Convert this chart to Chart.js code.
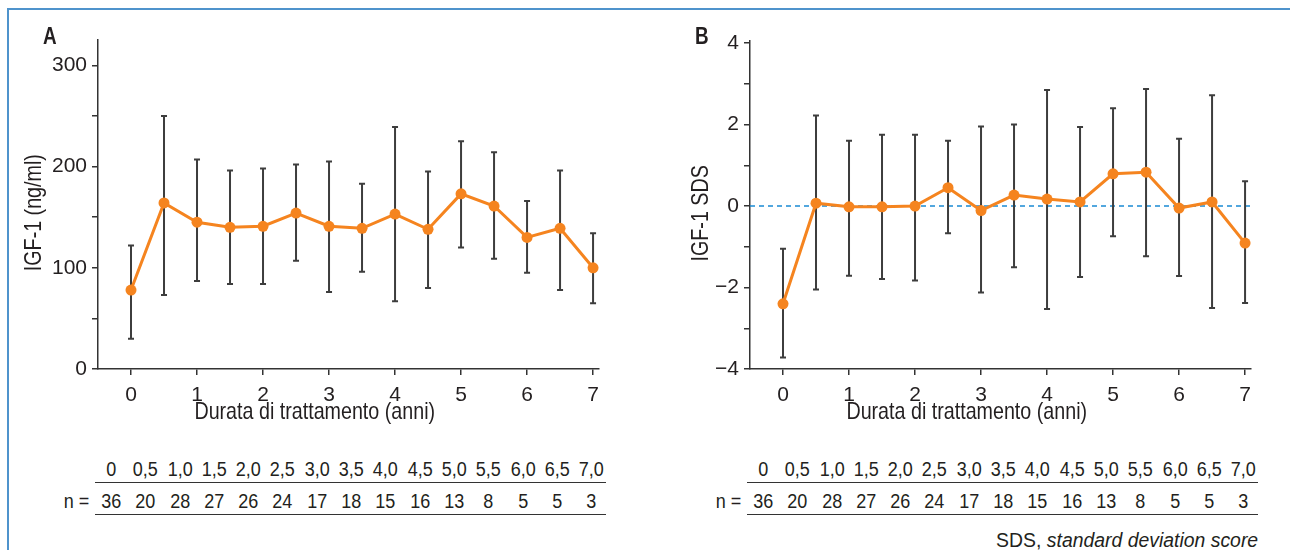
<!DOCTYPE html>
<html>
<head>
<meta charset="utf-8">
<script src="https://cdn.jsdelivr.net/npm/chart.js"></script>
<style>
  html, body { margin: 0; padding: 0; background: #fff; }
  body { width: 1290px; height: 550px; position: relative; overflow: hidden;
         font-family: 'Liberation Sans', Arial, sans-serif; color: #231f20; }
  canvas { position: absolute; top: 0; }
  #chartA { left: 0; }
  #chartB { left: 645px; }
  .frame-top { position: absolute; left: 7px; top: 8px; width: 1283px; height: 2px; background: #4f93cc; }
  .frame-left { position: absolute; left: 7px; top: 8px; width: 2px; height: 542px; background: #4f93cc; }
  .txt { position: absolute; white-space: nowrap; }
  .nar { display: inline-block; transform: scaleX(0.82); }
  .panel { font-size: 23px; line-height: 23px; font-weight: bold; }
  .panel .nar { transform-origin: left center; }
  .xtitle { font-size: 24px; line-height: 24px; width: 400px; text-align: center; }
  .ytitle { font-size: 24px; line-height: 24px; width: 240px; text-align: center; transform: rotate(-90deg); }
  .row { position: absolute; display: flex; font-size: 20px; line-height: 24px; }
  .row span { display: block; width: 34.3px; text-align: center; }
  .row .nar, .nlab .nar { transform: scaleX(0.9); }
  .rule { position: absolute; height: 0; border-top: 1.5px solid #333; }
  .nlab { font-size: 20px; line-height: 24px; text-align: right; width: 40px; }
  .nlab .nar, .note .nar { transform-origin: right center; }
  .note { font-size: 20px; line-height: 24px; right: 32px; top: 528px; text-align: right; }
  .note .nar { transform: scaleX(0.97); }
</style>
</head>
<body>
<div class="frame-top"></div>
<div class="frame-left"></div>
<canvas id="chartA" width="640" height="440"></canvas>
<canvas id="chartB" width="645" height="440"></canvas>
<div id="labels"></div>
<script>
const years = [0, 0.5, 1, 1.5, 2, 2.5, 3, 3.5, 4, 4.5, 5, 5.5, 6, 6.5, 7];
const xTicks = [0, 1, 2, 3, 4, 5, 6, 7];

// pannello A: IGF-1 (ng/ml), media e barre
const igfMean  = [78, 164, 145, 140, 141, 154, 141, 139, 153, 138, 173, 161, 130, 139, 100];
const igfUpper = [122, 250, 207, 196, 198, 202, 205, 183, 239, 195, 225, 214, 166, 196, 134];
const igfLower = [30, 73, 87, 84, 84, 107, 76, 96, 67, 80, 120, 109, 95, 78, 65];
const igfTicks = [0, 50, 100, 150, 200, 250, 300];

// pannello B: IGF-1 SDS
const sdsMean  = [-2.40, 0.07, -0.02, -0.02, 0.00, 0.45, -0.11, 0.27, 0.17, 0.10, 0.79, 0.83, -0.05, 0.10, -0.91];
const sdsUpper = [-1.05, 2.22, 1.60, 1.75, 1.75, 1.60, 1.95, 2.00, 2.85, 1.94, 2.40, 2.87, 1.65, 2.72, 0.61];
const sdsLower = [-3.72, -2.05, -1.71, -1.79, -1.83, -0.67, -2.12, -1.50, -2.53, -1.74, -0.74, -1.23, -1.72, -2.50, -2.38];
const sdsTicks = [-4, -3, -2, -1, 0, 1, 2, 3, 4];

// tabella sotto i grafici
const tableYears = ['0', '0,5', '1,0', '1,5', '2,0', '2,5', '3,0', '3,5', '4,0', '4,5', '5,0', '5,5', '6,0', '6,5', '7,0'];
const nCounts = [36, 20, 28, 27, 26, 24, 17, 18, 15, 16, 13, 8, 5, 5, 3];

const ORANGE = '#f5841f';
const INK = '#231f20';
const AXIS = '#333';
const FONT = "'Liberation Sans', Arial, sans-serif";

function errorBarPlugin(upper, lower, zeroLine) {
  return {
    id: 'errorBars',
    beforeDatasetsDraw(chart) {
      const { ctx, chartArea, scales: { x, y } } = chart;
      ctx.save();
      if (zeroLine) {
        const y0 = y.getPixelForValue(0);
        ctx.strokeStyle = '#1a8ad4';
        ctx.lineWidth = 1.5;
        ctx.setLineDash([5, 4]);
        ctx.beginPath();
        ctx.moveTo(chartArea.left, y0);
        ctx.lineTo(chartArea.right, y0);
        ctx.stroke();
        ctx.setLineDash([]);
      }
      ctx.strokeStyle = '#3d3d3d';
      ctx.lineWidth = 2;
      upper.forEach((u, i) => {
        const px = x.getPixelForValue(years[i]);
        const top = y.getPixelForValue(u);
        const bot = y.getPixelForValue(lower[i]);
        ctx.beginPath();
        ctx.moveTo(px, top); ctx.lineTo(px, bot);
        ctx.moveTo(px - 3, top); ctx.lineTo(px + 3, top);
        ctx.moveTo(px - 3, bot); ctx.lineTo(px + 3, bot);
        ctx.stroke();
      });
      ctx.restore();
    }
  };
}

function axisStyle() {
  return {
    ticks: { color: INK, font: { family: FONT, size: 21 } },
    grid: { drawOnChartArea: false, drawTicks: true, tickLength: 6, color: AXIS, lineWidth: 1.5 },
    border: { display: true, color: AXIS, width: 1.5 }
  };
}

function makeChart(el, mean, upper, lower, yMin, yMax, yTicks, labelFn, yWidth, pad, zeroLine) {
  const xs = axisStyle();
  const ys = axisStyle();
  return new Chart(el, {
    type: 'line',
    data: {
      datasets: [{
        data: years.map((v, i) => ({ x: v, y: mean[i] })),
        borderColor: ORANGE,
        borderWidth: 3,
        pointRadius: 5.5,
        pointBackgroundColor: ORANGE,
        pointBorderWidth: 0,
        tension: 0
      }]
    },
    options: {
      responsive: false,
      animation: false,
      layout: { padding: pad },
      plugins: { legend: { display: false }, tooltip: { enabled: false } },
      scales: {
        x: {
          type: 'linear', min: -0.5, max: 7.09,
          afterBuildTicks: s => { s.ticks = xTicks.map(v => ({ value: v })); },
          afterFit: s => { s.height = 50; },
          ticks: { ...xs.ticks, padding: 8, autoSkip: false, callback: v => String(v) },
          grid: xs.grid, border: xs.border
        },
        y: {
          min: yMin, max: yMax,
          afterBuildTicks: s => { s.ticks = yTicks.map(v => ({ value: v })); },
          afterFit: s => { s.width = yWidth; },
          ticks: { ...ys.ticks, padding: 5, autoSkip: false, callback: labelFn },
          grid: ys.grid, border: ys.border
        }
      }
    },
    plugins: [errorBarPlugin(upper, lower, zeroLine)]
  });
}

makeChart(document.getElementById('chartA'), igfMean, igfUpper, igfLower, 0, 325, igfTicks,
  v => (v % 100 === 0 ? String(v) : ''), 98, { left: 0, top: 40, right: 41, bottom: 21 }, false);

makeChart(document.getElementById('chartB'), sdsMean, sdsUpper, sdsLower, -4, 4.05, sdsTicks,
  v => (v % 2 === 0 ? String(v).replace('-', '\u2212') : ''), 105, { left: 0, top: 41, right: 39, bottom: 21 }, true);

// testi e tabelle in HTML (font stretto simulato con scaleX)
const labels = document.getElementById('labels');
function addText(cls, html, style) {
  const d = document.createElement('div');
  d.className = 'txt ' + cls;
  if (html !== null) d.innerHTML = '<span class="nar">' + html + '</span>';
  Object.assign(d.style, style);
  labels.appendChild(d);
  return d;
}

function addRow(dx, top, values) {
  const row = addText('row', null, { left: (94 + dx) + 'px', top: top + 'px' });
  values.forEach(t => {
    const s = document.createElement('span');
    s.innerHTML = '<span class="nar">' + t + '</span>';
    row.appendChild(s);
  });
}

function addPanel(dx, letter, ytitle, ytCx, xtCx) {
  addText('panel', letter, { left: (43 + dx) + 'px', top: '25px' });
  addText('ytitle', ytitle, { left: (ytCx - 120) + 'px', top: '201px' });
  addText('xtitle', 'Durata di trattamento (anni)', { left: (xtCx - 200) + 'px', top: '399px' });
  addRow(dx, 457, tableYears);
  addText('rule', null, { left: (95 + dx) + 'px', top: '482px', width: '511px' });
  addText('nlab', 'n =', { left: (49 + dx) + 'px', top: '489px' });
  addRow(dx, 489, nCounts);
  addText('rule', null, { left: (95 + dx) + 'px', top: '514px', width: '511px' });
}

addPanel(0, 'A', 'IGF-1 (ng/ml)', 33, 315);
addPanel(652, 'B', 'IGF-1 SDS', 700, 967);
addText('note', 'SDS, <i>standard deviation score</i>', {});
</script>
</body>
</html>
